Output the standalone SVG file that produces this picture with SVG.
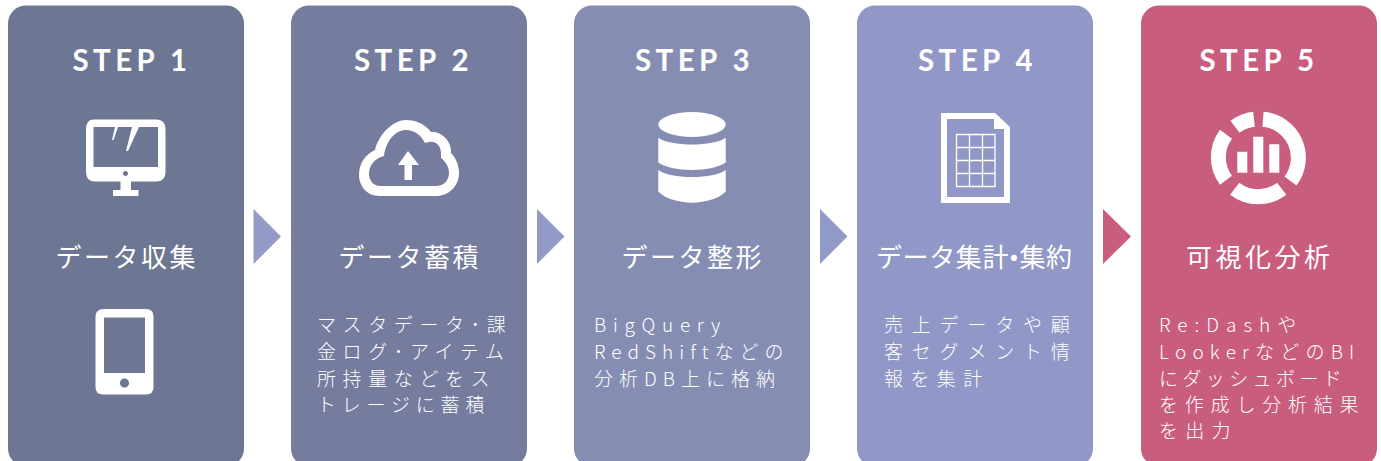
<svg xmlns="http://www.w3.org/2000/svg" width="1381" height="461" viewBox="0 0 1381 461">
<style>
text{fill:#fff;font-family:"Noto Sans CJK JP","Noto Sans",sans-serif}
.s{font-family:Lato,"Noto Sans",sans-serif;font-size:29.500px;font-weight:700;text-anchor:middle;letter-spacing:4.400px}
.t{font-size:26px;letter-spacing:2.500px}
.b{font-size:19px;font-weight:300}
.w{fill:#fff}
</style>
<rect width="1381" height="461" fill="#fff"/>
<g id="connectors">
<polygon points="253.500,209 281,236.500 253.500,264" fill="#929ac8"/>
<polygon points="537,209 564.500,236.500 537,264" fill="#929ac8"/>
<polygon points="820,209 847.500,236.500 820,264" fill="#929ac8"/>
<polygon points="1103,209 1131,236.500 1103,264" fill="#c95d7e"/>
</g>
<g id="step1">
<rect x="8" y="5.500" width="236" height="461" rx="18" fill="#6d7692"/>
<text class="s" x="132" y="71">STEP 1</text>
<path class="w" fill-rule="evenodd" d="M94 119.500H156Q165.500 119.500 165.500 129V172Q165.500 181.500 156 181.500H131V190H138.500V196H113V190H120.500V181.500H95Q86 181.500 86 172V129Q86 119.500 94 119.500ZM93.500 127V167H158V127ZM115 127L112 140L113.500 140L118 127ZM132 127L126 151L128 151L139 127ZM125.500 171a2.500 2.500 0 1 0 .01 0Z"/>
<text class="t" x="55.500" y="267">データ収集</text>
<path class="w" fill-rule="evenodd" d="M104 309H146Q153.500 309 153.500 316.500V387Q153.500 394.500 146 394.500H103Q95.500 394.500 95.500 387V316.500Q95.500 309 104 309ZM104 317.500V373H145V317.500ZM124.500 378.500a4.500 4.500 0 1 0 .01 0Z"/>
</g>
<g id="step2">
<rect x="291" y="5.500" width="236" height="461" rx="18" fill="#757c9e"/>
<text class="s" x="413.500" y="71">STEP 2</text>
<path class="w" fill-rule="evenodd" d="M380 196C366 196 359 185 359 175C359 163 366 154 375 150C379 133 394 120 406 120C416 120 425 124 431 132C442 131 452 142 451 153C456 158 459 165 459 173C459 186 449 196 436 196ZM380 186H436C444 186 449 180 449 173C449 167 446 162 441 158V153C441 146 436 141 429 142L425 143C421 135 414 130 406 130C396 130 386 140 384 156C375 158 369 165 369 174C369 181 374 186 380 186Z"/>
<path class="w" d="M408 151L419 165H412V180H404.500V165H398Z"/>
<text class="t" x="338.500" y="267">データ蓄積</text>
<g class="b">
<text x="317" y="332" letter-spacing="6.600">マスタデータ･課</text>
<text x="317" y="359" letter-spacing="6.600">金ログ･アイテム</text>
<text x="317" y="386" letter-spacing="6.600">所持量などをス</text>
<text x="317" y="412" letter-spacing="5.800">トレージに蓄積</text>
</g>
</g>
<g id="step3">
<rect x="574" y="5.500" width="236" height="461" rx="18" fill="#868db3"/>
<text class="s" x="694.500" y="71">STEP 3</text>
<ellipse class="w" cx="692" cy="124.500" rx="33.700" ry="12.500"/>
<path class="w" d="M658.300 137.700C664 142 678 144.500 692 144.500S720 142 725.700 137.700V162.500C720 167 706 170 692 170S664 167 658.300 162.500Z"/>
<path class="w" d="M658.300 170C664 174.500 678 177 692 177S720 174.500 725.700 170V191.500C720 198 706 202.700 692 202.700S664 198 658.300 191.500Z"/>
<text class="t" x="621.500" y="267">データ整形</text>
<g class="b" font-family="'Noto Sans'">
<text x="594" y="332" letter-spacing="6.700">BigQuery</text>
<text x="594" y="359" letter-spacing="6.000">RedShiftなどの</text>
<text x="594" y="386" letter-spacing="6.000">分析DB上に格納</text>
</g>
</g>
<g id="step4">
<rect x="857" y="5.500" width="236" height="461" rx="18" fill="#9198c7"/>
<text class="s" x="977.500" y="71">STEP 4</text>
<path class="w" fill-rule="evenodd" d="M941 113H995L1010 127V203H941ZM947 119V197H1004V129H994V119Z"/>
<path fill="none" stroke="#fff" stroke-width="1.300" d="M956.500 134.500H995V186.500H956.500ZM956.500 147.500H995M956.500 160.500H995M956.500 173.500H995M969.500 134.500V186.500M982.500 134.500V186.500"/>
<text class="t" x="876" y="267" style="letter-spacing:.6px">データ集計<tspan font-family="'Noto Sans'">•</tspan>集約</text>
<g class="b">
<text x="884" y="332" letter-spacing="8.800">売上データや顧</text>
<text x="884" y="359" letter-spacing="8.800">客セグメント情</text>
<text x="884" y="386" letter-spacing="7.400">報を集計</text>
</g>
</g>
<g id="step5">
<rect x="1141" y="5.500" width="236" height="461" rx="18" fill="#c95d7e"/>
<text class="s" x="1259" y="71">STEP 5</text>
<g fill="none" stroke="#fff" stroke-width="15">
<path d="M1263 119.300A38.500 38.500 0 0 1 1290.500 181"/>
<path d="M1281.700 188.700A38.500 38.500 0 0 1 1234.700 188.700"/>
<path d="M1226 180.300A38.500 38.500 0 0 1 1226 134.300"/>
<path d="M1235 126.700A38.500 38.500 0 0 1 1254 119.200"/>
</g>
<path class="w" d="M1237.300 151.700H1247.300V172.700H1237.300ZM1253.300 136.700H1263.300V172.700H1253.300ZM1269.300 144.300H1279.300V172.700H1269.300Z"/>
<text class="t" x="1186" y="267" style="letter-spacing:3.500px">可視化分析</text>
<g class="b" font-family="'Noto Sans'">
<text x="1159" y="332" letter-spacing="7">Re:Dashや</text>
<text x="1159" y="359" letter-spacing="6.200">LookerなどのBI</text>
<text x="1159" y="386" letter-spacing="4.400">にダッシュボード</text>
<text x="1159" y="412" letter-spacing="6.800">を作成し分析結果</text>
<text x="1159" y="438" letter-spacing="7.300">を出力</text>
</g>
</g>
</svg>
